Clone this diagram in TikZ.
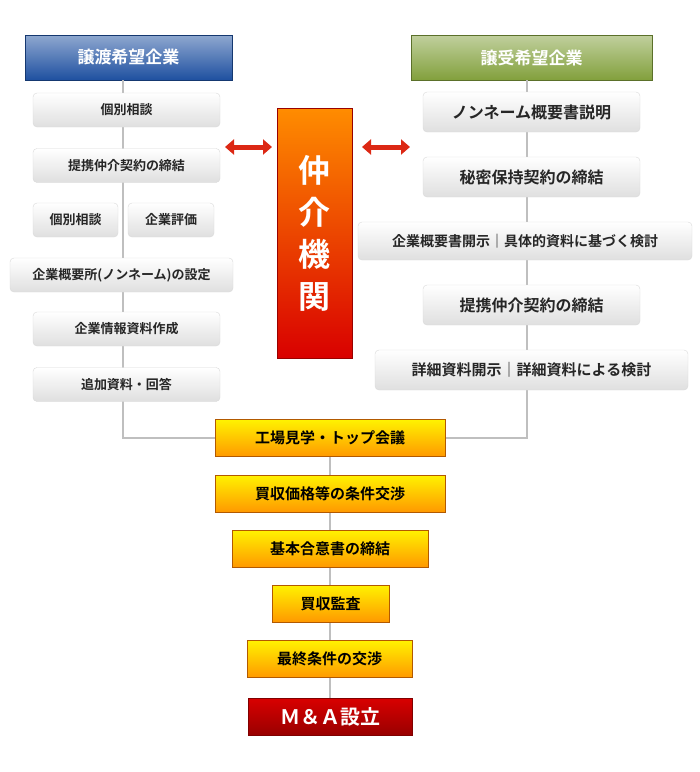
\documentclass[tikz,border=0pt]{standalone}
\usepackage{fontspec}
\setmainfont{Noto Sans CJK JP}[BoldFont={Noto Sans CJK JP Bold}]
\usetikzlibrary{arrows.meta}
\definecolor{hdblue}{RGB}{30,80,160}
\definecolor{hdgreen}{RGB}{130,160,60}
\definecolor{agred}{RGB}{220,40,20}

\begin{document}
\begin{tikzpicture}[x=1pt,y=-1pt,
    every node/.style={inner sep=0pt,font=\bfseries\fontsize{13}{14}\selectfont},
    header/.style={minimum height=45pt,text=white,font=\bfseries\fontsize{17}{18}\selectfont,draw=#1!70!black,top color=#1!50!white,bottom color=#1},
    stepbox/.style={minimum height=34pt,rounded corners=4pt,draw=gray!30,top color=white,bottom color=gray!25,text=black!85},
    goldbox/.style={minimum height=37pt,draw=orange!70!black,top color=yellow!90!orange,bottom color=orange!80!yellow,font=\bfseries\fontsize{15}{16}\selectfont},
    link/.style={gray!50,line width=1.2pt},
    both/.style={{Triangle[length=9pt,width=15pt]}-{Triangle[length=9pt,width=15pt]},agred,line width=5pt}
  ]
\useasboundingbox (0,0) rectangle (700,772);
% headers
\node[header=hdblue,minimum width=207pt] (seller) at (128.5,57.5) {譲渡希望企業};
\node[header=hdgreen,minimum width=241pt] (buyer) at (531.5,57.5) {譲受希望企業};
% left column
\draw[link] (seller.south -| 123,0) -- (123,438) coordinate (lbend) -- (215,438);
\node[stepbox,minimum width=187pt] (l1) at (126.5,110) {個別相談};
\node[stepbox,minimum width=187pt] (l2) at (126.5,165.5) {提携仲介契約の締結};
\node[stepbox,minimum width=85pt] (l3a) at (75.5,220) {個別相談};
\node[stepbox,minimum width=86pt] (l3b) at (171,220) {企業評価};
\node[stepbox,minimum width=223pt] (l4) at (121.5,275) {企業概要所(ノンネーム)の設定};
\node[stepbox,minimum width=187pt] (l5) at (126.5,329) {企業情報資料作成};
\node[stepbox,minimum width=187pt] (l6) at (126.5,384.5) {追加資料・回答};
% right column
\draw[link] (buyer.south -| 527,0) -- (527,438) coordinate (rbend) -- (445,438);
\node[stepbox,minimum width=217pt,minimum height=40pt] (r1) at (531.5,112) {\fontsize{16}{17}\selectfont ノンネーム概要書説明};
\node[stepbox,minimum width=217pt,minimum height=40pt] (r2) at (531.5,177) {\fontsize{16}{17}\selectfont 秘密保持契約の締結};
\node[stepbox,minimum width=334pt,minimum height=38pt] (r3) at (525,241) {\fontsize{14}{15}\selectfont 企業概要書開示｜具体的資料に基づく検討};
\node[stepbox,minimum width=217pt,minimum height=40pt] (r4) at (531.5,305) {\fontsize{16}{17}\selectfont 提携仲介契約の締結};
\node[stepbox,minimum width=313pt,minimum height=40pt] (r5) at (531.5,370) {\fontsize{15}{16}\selectfont 詳細資料開示｜詳細資料による検討};
% agent
\node[minimum width=75pt,minimum height=250pt,draw=red!60!black,top color=orange!90!yellow,bottom color=red!85!black,text=white,font=\bfseries\fontsize{32}{42}\selectfont,align=center] (agent) at (314.5,233) {仲\\介\\機\\関};
\draw[both] (225,147) -- (272,147);
\draw[both] (362,147) -- (410,147);
% common steps
\draw[link] (330,456) -- (330,698);
\node[goldbox,minimum width=230pt] (c1) at (330,438) {工場見学・トップ会議};
\node[goldbox,minimum width=230pt] (c2) at (330,493.5) {買収価格等の条件交渉};
\node[goldbox,minimum width=196pt] (c3) at (330,548.5) {基本合意書の締結};
\node[goldbox,minimum width=117pt] (c4) at (330.5,603.5) {買収監査};
\node[goldbox,minimum width=165pt] (c5) at (329.5,659) {最終条件の交渉};
\node[minimum width=164pt,minimum height=37pt,draw=red!50!black,top color=red!85!black,bottom color=red!60!black,text=white,font=\bfseries\fontsize{20}{21}\selectfont] (c6) at (330,716.5) {Ｍ＆Ａ設立};
\end{tikzpicture}
\end{document}
